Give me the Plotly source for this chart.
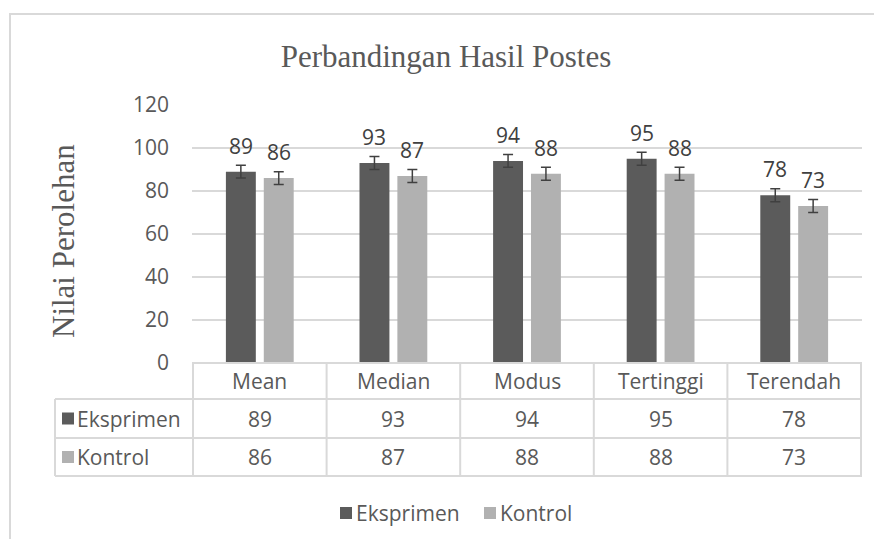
import plotly.graph_objects as go

# ---- data ----
categories = ["Mean", "Median", "Modus", "Tertinggi", "Terendah"]
eksprimen = [89, 93, 94, 95, 78]
kontrol = [86, 87, 88, 88, 73]
err_eksprimen = [3, 3, 3, 3, 3]
err_kontrol = [3, 3, 3, 3, 3]
series_names = ["Eksprimen", "Kontrol"]
y_ticks = [0, 20, 40, 60, 80, 100, 120]
title_text = "Perbandingan Hasil Postes"
y_title = "Nilai Perolehan"

# ---- styles ----
OFF = 8  # page body margin
W, H = 882 - OFF, 539 - OFF
PL, PR, PT, PB = 192, 862, 105, 363   # plot area in reference pixels
DARK = "#5b5b5b"
LIGHT = "#b1b1b1"
TXT = "#595959"
GRID = "#d9d9d9"
SANS = "Open Sans"
SERIF = "Liberation Serif"
FS = 21

def fx(px):
    return (px - PL) / (PR - PL)

def fy(py):
    return (PB - py) / (PB - PT)

colors = [DARK, LIGHT]
values = [eksprimen, kontrol]
errs = [err_eksprimen, err_kontrol]

fig = go.Figure()
for name, vals, er, col in zip(series_names, values, errs, colors):
    fig.add_trace(go.Bar(
        x=categories, y=vals, name=name,
        marker=dict(color=col, line=dict(width=0)),
        error_y=dict(type="data", array=er, visible=True,
                     color="#404040", thickness=1.5, width=5),
        showlegend=False,
    ))

annotations = []
shapes = []

# data labels above bars
offsets = [-19, 19]
for vals, off in zip(values, offsets):
    for c, v in zip(categories, vals):
        annotations.append(dict(
            x=c, y=v, xref="x", yref="y", text=str(v), showarrow=False,
            xshift=off, yshift=26, yanchor="middle",
            font=dict(family=SANS, size=FS, color="#404040")))

# data table
row_edges = [363, 399, 438, 476]
ncat = len(categories)
shapes.append(dict(type="line", xref="paper", yref="paper",
                   x0=fx(PL), x1=fx(PR), y0=fy(row_edges[0]), y1=fy(row_edges[0]),
                   line=dict(color=GRID, width=2)))
for ry in row_edges[1:]:
    shapes.append(dict(type="line", xref="paper", yref="paper",
                       x0=fx(55), x1=fx(PR), y0=fy(ry), y1=fy(ry),
                       line=dict(color=GRID, width=2)))
for i in range(ncat + 1):
    shapes.append(dict(type="line", xref="x", yref="paper",
                       x0=i - 0.5, x1=i - 0.5, y0=fy(row_edges[0]), y1=fy(row_edges[-1]),
                       line=dict(color=GRID, width=2)))
shapes.append(dict(type="line", xref="paper", yref="paper",
                   x0=fx(55), x1=fx(55), y0=fy(row_edges[1]), y1=fy(row_edges[-1]),
                   line=dict(color=GRID, width=2)))

for c in categories:
    annotations.append(dict(x=c, y=fy((row_edges[0] + row_edges[1]) / 2), xref="x", yref="paper",
                            text=c, showarrow=False, yanchor="middle",
                            font=dict(family=SANS, size=FS, color=TXT)))
for r, (name, vals, col) in enumerate(zip(series_names, values, colors)):
    yc = (row_edges[r + 1] + row_edges[r + 2]) / 2
    for c, v in zip(categories, vals):
        annotations.append(dict(x=c, y=fy(yc), xref="x", yref="paper",
                                text=str(v), showarrow=False, yanchor="middle",
                                font=dict(family=SANS, size=FS, color=TXT)))
    shapes.append(dict(type="rect", xref="paper", yref="paper",
                       x0=fx(62), x1=fx(74), y0=fy(yc - 6), y1=fy(yc + 6),
                       fillcolor=col, line=dict(width=0)))
    annotations.append(dict(x=fx(75), y=fy(yc), xref="paper", yref="paper",
                            text=name, showarrow=False, xanchor="left", yanchor="middle",
                            font=dict(family=SANS, size=FS, color=TXT)))

# bottom legend
leg_y = 513
leg_items = [(340, series_names[0], colors[0]), (484, series_names[1], colors[1])]
for lx, name, col in leg_items:
    shapes.append(dict(type="rect", xref="paper", yref="paper",
                       x0=fx(lx), x1=fx(lx + 12), y0=fy(leg_y - 6), y1=fy(leg_y + 6),
                       fillcolor=col, line=dict(width=0)))
    annotations.append(dict(x=fx(lx + 14), y=fy(leg_y), xref="paper", yref="paper",
                            text=name, showarrow=False, xanchor="left", yanchor="middle",
                            font=dict(family=SANS, size=FS, color=TXT)))

# y axis title
annotations.append(dict(x=fx(63), y=fy(241), xref="paper", yref="paper",
                        text=y_title, showarrow=False, textangle=-90,
                        xanchor="center", yanchor="middle",
                        font=dict(family=SERIF, size=31, color=TXT)))

# chart border
shapes.append(dict(type="rect", xref="paper", yref="paper",
                   x0=fx(10), x1=fx(900), y0=fy(14), y1=fy(560),
                   line=dict(color=GRID, width=2), fillcolor="rgba(0,0,0,0)", layer="below"))

fig.update_layout(
    width=W, height=H, autosize=False,
    margin=dict(l=PL - OFF, r=W - (PR - OFF), t=PT - OFF, b=H - (PB - OFF), pad=0),
    paper_bgcolor="white", plot_bgcolor="white",
    barmode="group", bargap=0.433, bargroupgap=0.21,
    title=dict(text=title_text, x=(446 - OFF) / W, xref="container", xanchor="center",
               y=(H - (56 - OFF)) / H, yref="container", yanchor="middle",
               font=dict(family=SERIF, size=31, color=TXT)),
    xaxis=dict(showticklabels=False, showgrid=False, zeroline=False, showline=False, ticks=""),
    yaxis=dict(range=[0, 120], tickvals=y_ticks, showgrid=True, gridcolor=GRID, gridwidth=1.5,
               zeroline=False, showline=False, ticks="", ticklabelstandoff=22,
               tickfont=dict(family=SANS, size=FS, color=TXT)),
    annotations=annotations,
    shapes=shapes,
)

fig.write_html("out.html")
